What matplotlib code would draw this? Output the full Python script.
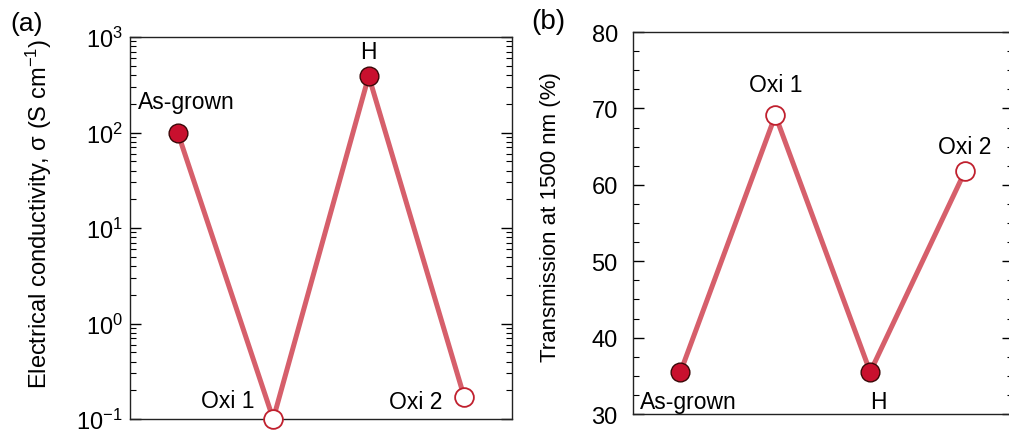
import numpy as np
import matplotlib
matplotlib.use('Agg')
import matplotlib.pyplot as plt
from matplotlib.ticker import LogLocator, MultipleLocator

plt.rcParams['font.family'] = ['Liberation Sans', 'DejaVu Sans']
plt.rcParams['mathtext.fontset'] = 'custom'
plt.rcParams['mathtext.rm'] = 'Liberation Sans'
plt.rcParams['mathtext.it'] = 'Liberation Sans:italic'

# ---------------------------------------------
# data
# ---------------------------------------------
states = ['As-grown', 'Oxi 1', 'H', 'Oxi 2']
conductivity = [100, 0.1, 390, 0.17]          # S cm^-1
transmission = [35.5, 69.1, 35.5, 61.8]       # % at 1500 nm
oxidised = [False, True, False, True]

# label offsets (points) for each state in each panel
offsets_a = [(6, 22), (-33, 13), (0, 18), (-35, -3)]
offsets_b = [(6, -21), (0, 22), (6, -21), (0, 18)]

line_col = '#d65f6b'
fill_col = '#c8102e'
edge_col = '#c0202e'

x = np.arange(1, len(states) + 1)

fig = plt.figure(figsize=(10.09, 4.31), dpi=100)
ax_a = fig.add_axes([0.1288, 0.0255, 0.3786, 0.8863])
ax_b = fig.add_axes([0.6274, 0.0371, 0.3761, 0.8863])


def draw_panel(ax, yvals, offsets):
    ax.plot(x, yvals, color=line_col, lw=3.6, zorder=2, clip_on=False)
    for xi, yi, ox, lab, off in zip(x, yvals, oxidised, states, offsets):
        if ox:
            ax.plot(xi, yi, 'o', ms=13.5, mfc='white', mec=edge_col, mew=1.3,
                    zorder=3, clip_on=False)
        else:
            ax.plot(xi, yi, 'o', ms=13.5, mfc=fill_col, mec='#3a0808', mew=1.0,
                    zorder=3, clip_on=False)
        ax.annotate(lab, (xi, yi), xytext=off, textcoords='offset points',
                    ha='center', va='center', fontsize=16.5)
    ax.set_xlim(0.5, 4.5)
    ax.set_xticks([])
    for s in ax.spines.values():
        s.set_linewidth(1.0)
        s.set_color('#222222')
    ax.tick_params(axis='y', which='both', direction='in', left=True, right=True,
                   labelsize=17)
    ax.tick_params(axis='y', which='major', length=8, width=1.0)
    ax.tick_params(axis='y', which='minor', length=4, width=0.8)


# (a) conductivity
draw_panel(ax_a, conductivity, offsets_a)
ax_a.set_yscale('log')
ax_a.set_ylim(0.1, 1000)
ax_a.yaxis.set_major_locator(LogLocator(base=10, numticks=10))
ax_a.yaxis.set_minor_locator(LogLocator(base=10, subs=np.arange(2, 10), numticks=20))
ax_a.tick_params(axis='y', which='major', pad=5)
ax_a.set_ylabel('Electrical conductivity, σ (S cm$^{-1}$)', fontsize=17)
ax_a.yaxis.set_label_coords(-0.199, 0.54)

# (b) transmission
draw_panel(ax_b, transmission, offsets_b)
ax_b.set_ylim(30, 80)
ax_b.yaxis.set_major_locator(MultipleLocator(10))
ax_b.yaxis.set_minor_locator(MultipleLocator(2.5))
ax_b.tick_params(axis='y', which='major', pad=11)
ax_b.set_ylabel('Transmission at 1500 nm (%)', fontsize=16)
ax_b.yaxis.set_label_coords(-0.19, 0.518)

fig.text(0.010, 0.945, '(a)', fontsize=19, ha='left', va='center')
fig.text(0.527, 0.95, '(b)', fontsize=20, ha='left', va='center')

fig.savefig('out.png', dpi=100)
